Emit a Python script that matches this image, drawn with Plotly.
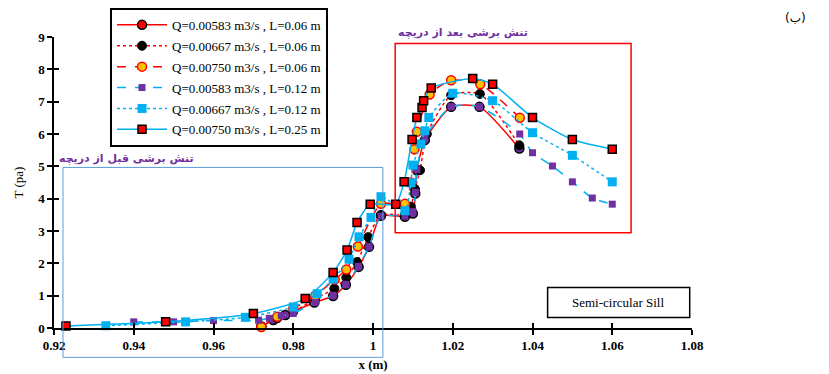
import plotly.graph_objects as go

# ---- data ----
names = ["Q=0.00583 m3/s , L=0.06 m", "Q=0.00667 m3/s , L=0.06 m", "Q=0.00750 m3/s , L=0.06 m",
         "Q=0.00583 m3/s , L=0.12 m", "Q=0.00667 m3/s , L=0.12 m", "Q=0.00750 m3/s , L=0.25 m"]

x1 = [0.972, 0.975, 0.978, 0.9853, 0.990, 0.9932, 0.9964, 0.999, 1.002, 1.008, 1.010, 1.0106, 1.011, 1.013, 1.0196, 1.0267, 1.0367]
y1 = [0.05, 0.25, 0.40, 0.79, 0.99, 1.34, 1.89, 2.51, 3.47, 3.44, 3.54, 4.16, 4.88, 5.81, 6.84, 6.84, 5.55]

x2 = [0.972, 0.976, 0.980, 0.9855, 0.9903, 0.9933, 0.996, 0.9988, 1.002, 1.008, 1.0095, 1.0105, 1.0118, 1.0135, 1.0196, 1.0268, 1.0367]
y2 = [0.05, 0.30, 0.50, 0.90, 1.22, 1.56, 2.04, 2.81, 3.50, 3.50, 3.75, 4.30, 4.88, 6.00, 7.20, 7.24, 5.65]

x3 = [0.972, 0.976, 0.980, 0.9855, 0.9904, 0.9933, 0.9962, 1.002, 1.008, 1.0095, 1.0104, 1.011, 1.0142, 1.0196, 1.0269, 1.0368]
y3 = [0.03, 0.35, 0.60, 1.00, 1.50, 1.81, 2.52, 3.84, 3.84, 4.50, 5.53, 6.07, 7.22, 7.66, 7.54, 6.50]

x4 = [0.940, 0.950, 0.960, 0.9713, 0.974, 0.977, 0.980, 0.9855, 0.990, 0.9932, 0.9963, 0.999, 1.002, 1.008, 1.010, 1.0106, 1.011, 1.013, 1.0196, 1.0267, 1.0368, 1.040, 1.045, 1.050, 1.055, 1.060]
y4 = [0.19, 0.19, 0.23, 0.24, 0.30, 0.38, 0.45, 0.79, 1.01, 1.35, 1.91, 2.51, 3.46, 3.46, 3.60, 4.20, 4.90, 5.90, 6.84, 6.84, 6.00, 5.42, 5.01, 4.52, 4.02, 3.83]

x5 = [0.933, 0.953, 0.968, 0.980, 0.986, 0.990, 0.994, 0.9965, 0.9995, 1.002, 1.008, 1.0095, 1.010, 1.012, 1.013, 1.014, 1.020, 1.030, 1.040, 1.050, 1.060]
y5 = [0.07, 0.19, 0.33, 0.65, 1.06, 1.51, 2.13, 2.82, 3.42, 4.06, 3.63, 4.49, 5.04, 5.69, 6.10, 6.51, 7.26, 7.03, 6.04, 5.34, 4.52]

x6 = [0.923, 0.948, 0.970, 0.983, 0.990, 0.9935, 0.996, 0.9993, 1.0057, 1.0078, 1.0098, 1.011, 1.0123, 1.0127, 1.0146, 1.025, 1.030, 1.040, 1.050, 1.060]
y6 = [0.06, 0.19, 0.45, 0.91, 1.72, 2.41, 3.26, 3.83, 3.83, 4.52, 5.83, 6.51, 6.82, 7.03, 7.42, 7.72, 7.54, 6.51, 5.83, 5.53]

xticks = [0.92, 0.94, 0.96, 0.98, 1.0, 1.02, 1.04, 1.06, 1.08]
xticklabels = ["0.92", "0.94", "0.96", "0.98", "1", "1.02", "1.04", "1.06", "1.08"]
yticks = [0, 1, 2, 3, 4, 5, 6, 7, 8, 9]

RED = "#FF0000"
BLUE = "#00B0F0"
PURPLE = "#7030A0"
ORANGE = "#FFC000"
SERIF = "'Liberation Serif', 'DejaVu Serif', serif"

styles = [
    dict(line=dict(color=RED, width=1.5, dash="solid"),
         marker=dict(symbol="circle", size=9, color=PURPLE, line=dict(color="black", width=1.5)),
         legmarker=dict(symbol="circle", size=9, color=RED, line=dict(color="black", width=1.5))),
    dict(line=dict(color=RED, width=1.5, dash="dot"),
         marker=dict(symbol="circle", size=9, color="black", line=dict(color="black", width=1)),
         legmarker=None),
    dict(line=dict(color=RED, width=1.5, dash="dash"),
         marker=dict(symbol="circle", size=9, color=ORANGE, line=dict(color=RED, width=1.5)),
         legmarker=None),
    dict(line=dict(color=BLUE, width=1.5, dash="dash"),
         marker=dict(symbol="square", size=7, color=PURPLE, line=dict(width=0)),
         legmarker=None),
    dict(line=dict(color=BLUE, width=1.5, dash="dot"),
         marker=dict(symbol="square", size=9, color=BLUE, line=dict(width=0)),
         legmarker=None),
    dict(line=dict(color=BLUE, width=1.5, dash="solid"),
         marker=dict(symbol="square", size=8, color=RED, line=dict(color="black", width=1.5)),
         legmarker=None),
]

xs = [x1, x2, x3, x4, x5, x6]
ys = [y1, y2, y3, y4, y5, y6]

fig = go.Figure()
for i in range(6):
    st = styles[i]
    fig.add_trace(go.Scatter(x=xs[i], y=ys[i], mode="lines+markers", name=names[i],
                             line=dict(shape="spline", smoothing=0.6, **st["line"]),
                             marker=st["marker"], showlegend=False, cliponaxis=False))
# legend entries
for i in range(6):
    st = styles[i]
    fig.add_trace(go.Scatter(x=[None], y=[None], mode="lines+markers", name=names[i],
                             line=st["line"], marker=st["legmarker"] or st["marker"],
                             legendgroup="g%d" % i, showlegend=True))
# overlay axes for inside ticks (invisible helper trace)
fig.add_trace(go.Scatter(x=[xticks[0]], y=[yticks[0]], xaxis="x2", yaxis="y2", mode="markers",
                         marker=dict(opacity=0), showlegend=False, hoverinfo="skip"))

tickfont = dict(family=SERIF, size=13, color="black")
fig.update_layout(
    width=829, height=374,
    font=dict(family=SERIF),
    margin=dict(l=54, r=137, t=37, b=46, autoexpand=False),
    paper_bgcolor="white", plot_bgcolor="white",
    xaxis=dict(range=[0.92, 1.08], tickvals=xticks, ticktext=["<b>%s</b>" % t for t in xticklabels],
               ticks="outside", ticklen=5, tickwidth=1.5, tickcolor="black", automargin=False,
               showline=True, linecolor="black", linewidth=1.5, showgrid=False, zeroline=False,
               tickfont=tickfont,
               title=dict(text="<b>x (m)</b>", font=dict(family=SERIF, size=13, color="black"), standoff=8)),
    yaxis=dict(range=[0, 9], tickvals=yticks, ticktext=["<b>%d</b>" % v for v in yticks],
               ticks="outside", ticklen=5, tickwidth=1.5, tickcolor="black", automargin=False,
               showline=True, linecolor="black", linewidth=1.5, showgrid=False, zeroline=False,
               tickfont=tickfont,
               title=dict(text="T (pa)", font=dict(family=SERIF, size=13, color="black"), standoff=12)),
    xaxis2=dict(overlaying="x", anchor="y2", side="bottom", range=[0.92, 1.08], tickvals=xticks, ticks="inside", ticklen=5,
                tickwidth=1.5, tickcolor="black", showticklabels=False, showline=False, showgrid=False, zeroline=False),
    yaxis2=dict(overlaying="y", anchor="x2", side="left", range=[0, 9], tickvals=yticks, ticks="inside", ticklen=5,
                tickwidth=1.5, tickcolor="black", showticklabels=False, showline=False, showgrid=False, zeroline=False),
    legend=dict(x=0.0878, y=1.10, xanchor="left", yanchor="top", bgcolor="white",
                bordercolor="black", borderwidth=2, tracegroupgap=1, itemwidth=50,
                font=dict(family=SERIF, size=13, color="black")),
    showlegend=True,
)

# boxes
fig.add_shape(type="rect", xref="paper", yref="paper", x0=0.0141, x1=0.5155, y0=-0.1008, y1=0.5518,
              line=dict(color="#5B9BD5", width=1), layer="above")
fig.add_shape(type="rect", xref="paper", yref="paper", x0=0.5348, x1=0.9045, y0=0.327, y1=0.978,
              line=dict(color=RED, width=1.5), layer="above")
fig.add_shape(type="rect", xref="paper", yref="paper", x0=0.7737, x1=0.9964, y0=0.0358, y1=0.139,
              line=dict(color="black", width=1.5), fillcolor="white", layer="above")

fig.add_annotation(xref="paper", yref="paper", x=0.8846, y=0.0875, xanchor="center", yanchor="middle",
                   text="Semi-circular Sill", showarrow=False,
                   font=dict(family=SERIF, size=13, color="black"))
fig.add_annotation(xref="paper", yref="paper", x=0.113, y=0.584, xanchor="center", yanchor="middle",
                   text="<b>تنش برشی قبل از دریچه</b>", showarrow=False,
                   font=dict(family="DejaVu Sans", size=11, color=PURPLE))
fig.add_annotation(xref="paper", yref="paper", x=0.641, y=1.0144, xanchor="center", yanchor="middle",
                   text="<b>تنش برشی بعد از دریچه</b>", showarrow=False,
                   font=dict(family="DejaVu Sans", size=11, color=PURPLE))
fig.add_annotation(xref="paper", yref="paper", x=1.162, y=1.065, xanchor="center", yanchor="middle",
                   text="(ب)", showarrow=False,
                   font=dict(family="DejaVu Sans", size=12, color="black"))

fig.write_html("out.html")
